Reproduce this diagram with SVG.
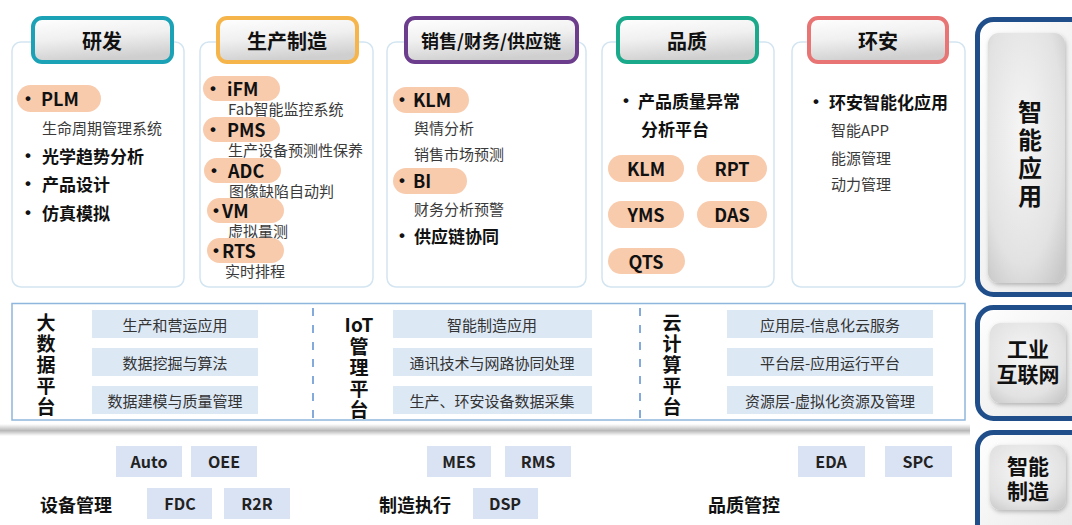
<svg xmlns="http://www.w3.org/2000/svg" width="1072" height="525" viewBox="0 0 1072 525">
<defs>
<linearGradient id="hg" x1="0" y1="0" x2="0.25" y2="1"><stop offset="0" stop-color="#ffffff"/><stop offset="0.5" stop-color="#f0f0f0"/><stop offset="1" stop-color="#cfcfcf"/></linearGradient>
<radialGradient id="ig" cx="0.45" cy="0.4" r="0.75"><stop offset="0" stop-color="#f6f6f6"/><stop offset="0.7" stop-color="#e2e2e2"/><stop offset="1" stop-color="#c8c8c8"/></radialGradient>
<linearGradient id="og" x1="0" y1="0" x2="1" y2="1"><stop offset="0" stop-color="#ffffff"/><stop offset="1" stop-color="#e6e6e6"/></linearGradient>
<linearGradient id="bar" x1="0" y1="0" x2="0" y2="1"><stop offset="0" stop-color="#ffffff"/><stop offset="0.55" stop-color="#b8b8b8"/><stop offset="1" stop-color="#ffffff"/></linearGradient>
<filter id="sh" x="-20%" y="-20%" width="140%" height="140%"><feDropShadow dx="1" dy="2" stdDeviation="2" flood-color="#000" flood-opacity="0.25"/></filter>
</defs>
<style>
text{font-family:"Noto Sans CJK SC","Noto Sans",sans-serif;fill:#1a1a1a;dominant-baseline:central}
.panel{fill:#fff;stroke:#d3e5f1;stroke-width:1.5}
.hdr{fill:url(#hg);stroke-width:4}
.ht{font-size:20px;font-weight:bold;text-anchor:middle;fill:#111}
.pill{fill:#f8cbad}
.b{font-size:17px;font-weight:bold;fill:#111}
.pb{font-size:18px;font-weight:bold;fill:#111}
.s{font-size:15px;fill:#3a3a3a}
.c{text-anchor:middle}
.mb{fill:#dde8f5}
.mt{font-size:15px;fill:#333;text-anchor:middle}
.vl{font-size:19px;font-weight:bold;fill:#111}
.vt{writing-mode:vertical-rl;letter-spacing:2px}
.tag{fill:#dae3f3}
.tt{font-size:16px;font-weight:bold;text-anchor:middle;fill:#222}
.bl{font-size:18px;font-weight:bold;fill:#111}
.outer{fill:url(#og);stroke:#1f4e8a;stroke-width:5}
.inner{fill:url(#ig);filter:url(#sh)}
.rt{font-size:21px;font-weight:bold;text-anchor:middle;fill:#111}
.bu{font-family:"Liberation Sans",Arial,sans-serif;font-size:17px;font-weight:bold;fill:#111}
</style>

<g id="col-rd">
<rect class="panel" x="12" y="42" width="172" height="245" rx="9"/>
<rect class="hdr" x="33" y="18" width="139" height="44" rx="9" stroke="#1ba2b6"/>
<text class="ht" x="102" y="40">研发</text>
<rect class="pill" x="17" y="85" width="84" height="27" rx="13.5"/>
<text class="bu" x="25" y="98">•</text><text class="pb" x="41" y="98">PLM</text>
<text class="s" x="42" y="127">生命周期管理系统</text>
<text class="bu" x="25" y="155">•</text><text class="b" x="42" y="155">光学趋势分析</text>
<text class="bu" x="25" y="183">•</text><text class="b" x="42" y="183">产品设计</text>
<text class="bu" x="25" y="212">•</text><text class="b" x="42" y="212">仿真模拟</text>
</g>

<g id="col-mfg">
<rect class="panel" x="200" y="42" width="173" height="245" rx="9"/>
<rect class="hdr" x="218" y="18" width="139" height="44" rx="9" stroke="#f6b54b"/>
<text class="ht" x="287" y="40">生产制造</text>
<rect class="pill" x="203" y="76" width="77" height="25" rx="12.5"/>
<text class="bu" x="210" y="88">•</text><text class="pb" x="227" y="88">iFM</text>
<text class="s" x="228" y="108">Fab智能监控系统</text>
<rect class="pill" x="203" y="117" width="77" height="25" rx="12.5"/>
<text class="bu" x="210" y="129">•</text><text class="pb" x="227" y="129">PMS</text>
<text class="s" x="228" y="149">生产设备预测性保养</text>
<rect class="pill" x="204" y="158" width="77" height="25" rx="12.5"/>
<text class="bu" x="211" y="170">•</text><text class="pb" x="228" y="170">ADC</text>
<text class="s" x="229" y="190">图像缺陷自动判</text>
<rect class="pill" x="207" y="198" width="77" height="25" rx="12.5"/>
<text class="bu" x="213" y="210">•</text><text class="pb" x="222" y="210">VM</text>
<text class="s" x="228" y="230">虚拟量测</text>
<rect class="pill" x="207" y="238" width="77" height="25" rx="12.5"/>
<text class="bu" x="213" y="250">•</text><text class="pb" x="222" y="250">RTS</text>
<text class="s" x="225" y="270">实时排程</text>
</g>

<g id="col-sales">
<rect class="panel" x="387" y="42" width="199" height="245" rx="9"/>
<rect class="hdr" x="406" y="18" width="171" height="44" rx="9" stroke="#6b3d8c"/>
<text class="ht" x="491" y="40" style="font-size:18px">销售/财务/供应链</text>
<rect class="pill" x="393" y="87" width="76" height="26" rx="13"/>
<text class="bu" x="399" y="99">•</text><text class="pb" x="413" y="99">KLM</text>
<text class="s" x="414" y="127">舆情分析</text>
<text class="s" x="414" y="153">销售市场预测</text>
<rect class="pill" x="393" y="168" width="74" height="26" rx="13"/>
<text class="bu" x="399" y="180">•</text><text class="pb" x="413" y="180">BI</text>
<text class="s" x="414" y="208">财务分析预警</text>
<text class="bu" x="399" y="235">•</text><text class="b" x="414" y="235">供应链协同</text>
</g>

<g id="col-quality">
<rect class="panel" x="602" y="42" width="172" height="245" rx="9"/>
<rect class="hdr" x="618" y="18" width="139" height="44" rx="9" stroke="#1aaa8b"/>
<text class="ht" x="687" y="40">品质</text>
<text class="bu" x="623" y="100">•</text><text class="b" x="638" y="100">产品质量异常</text>
<text class="b" x="641" y="128">分析平台</text>
<rect class="pill" x="608" y="155" width="76" height="27" rx="13.5"/>
<text class="pb c" x="646" y="168">KLM</text>
<rect class="pill" x="697" y="155" width="70" height="27" rx="13.5"/>
<text class="pb c" x="732" y="168">RPT</text>
<rect class="pill" x="608" y="201" width="76" height="27" rx="13.5"/>
<text class="pb c" x="646" y="214">YMS</text>
<rect class="pill" x="697" y="201" width="70" height="27" rx="13.5"/>
<text class="pb c" x="732" y="214">DAS</text>
<rect class="pill" x="608" y="248" width="77" height="26" rx="13"/>
<text class="pb c" x="646" y="261">QTS</text>
</g>

<g id="col-ehs">
<rect class="panel" x="792" y="42" width="173" height="245" rx="9"/>
<rect class="hdr" x="809" y="18" width="138" height="44" rx="9" stroke="#e87474"/>
<text class="ht" x="878" y="40">环安</text>
<text class="bu" x="813" y="101">•</text><text class="b" x="829" y="101">环安智能化应用</text>
<text class="s" x="831" y="129">智能APP</text>
<text class="s" x="831" y="157">能源管理</text>
<text class="s" x="831" y="183">动力管理</text>
</g>

<g id="side-app">
<rect class="outer" x="977.5" y="19.5" width="110" height="275" rx="16"/>
<rect class="inner" x="988" y="33" width="77" height="250" rx="11"/>
<text class="rt" x="1030" y="100" style="font-size:24px;writing-mode:vertical-rl;letter-spacing:4px;text-anchor:start">智能应用</text>
</g>

<g id="platform">
<rect x="12" y="303.5" width="953" height="116.5" fill="#fff" stroke="#8fb6dc" stroke-width="1.5"/>
<line x1="313" y1="308" x2="313" y2="418" stroke="#5b8fcf" stroke-width="1.5" stroke-dasharray="8,9"/>
<line x1="640" y1="308" x2="640" y2="418" stroke="#5b8fcf" stroke-width="1.5" stroke-dasharray="8,9"/>
<text class="vl vt" x="46" y="313.5">大数据平台</text>
<rect class="mb" x="92" y="310" width="166" height="28"/><text class="mt" x="175" y="324">生产和营运应用</text>
<rect class="mb" x="92" y="348" width="166" height="28"/><text class="mt" x="175" y="362">数据挖掘与算法</text>
<rect class="mb" x="92" y="386" width="166" height="28"/><text class="mt" x="175" y="400">数据建模与质量管理</text>
<text class="vl" x="359" y="323" style="text-anchor:middle">IoT</text>
<text class="vl vt" x="359" y="337">管理平台</text>
<rect class="mb" x="393" y="310" width="199" height="28"/><text class="mt" x="492" y="324">智能制造应用</text>
<rect class="mb" x="393" y="348" width="199" height="28"/><text class="mt" x="492" y="362">通讯技术与网路协同处理</text>
<rect class="mb" x="393" y="386" width="199" height="28"/><text class="mt" x="492" y="400">生产、环安设备数据采集</text>
<text class="vl vt" x="672" y="313.5">云计算平台</text>
<rect class="mb" x="727" y="310" width="206" height="28"/><text class="mt" x="830" y="324">应用层-信息化云服务</text>
<rect class="mb" x="727" y="348" width="206" height="28"/><text class="mt" x="830" y="362">平台层-应用运行平台</text>
<rect class="mb" x="727" y="386" width="206" height="28"/><text class="mt" x="830" y="400">资源层-虚拟化资源及管理</text>
</g>

<g id="side-iiot">
<rect class="outer" x="977.5" y="307.5" width="110" height="111" rx="16"/>
<rect class="inner" x="990" y="323" width="76" height="80" rx="11"/>
<text class="rt" x="1028" y="348">工业</text>
<text class="rt" x="1028" y="373">互联网</text>
</g>

<rect x="0" y="424" width="970" height="12" fill="url(#bar)"/>

<g id="mfg-tags">
<rect class="tag" x="116" y="446" width="66" height="31"/><text class="tt" x="149" y="461">Auto</text>
<rect class="tag" x="191" y="446" width="66" height="31"/><text class="tt" x="224" y="461">OEE</text>
<rect class="tag" x="147" y="488" width="65" height="31"/><text class="tt" x="180" y="503">FDC</text>
<rect class="tag" x="224" y="488" width="66" height="31"/><text class="tt" x="257" y="503">R2R</text>
<text class="bl" x="40" y="504">设备管理</text>
<rect class="tag" x="427" y="446" width="64" height="31"/><text class="tt" x="459" y="461">MES</text>
<rect class="tag" x="505" y="446" width="66" height="31"/><text class="tt" x="538" y="461">RMS</text>
<text class="bl" x="379" y="504">制造执行</text>
<rect class="tag" x="473" y="488" width="65" height="31"/><text class="tt" x="505" y="503">DSP</text>
<rect class="tag" x="798" y="446" width="67" height="31"/><text class="tt" x="831" y="461">EDA</text>
<rect class="tag" x="885" y="446" width="67" height="31"/><text class="tt" x="918" y="461">SPC</text>
<text class="bl" x="708" y="504">品质管控</text>
</g>

<g id="side-mfg">
<rect class="outer" x="977.5" y="432.5" width="110" height="115" rx="16"/>
<rect class="inner" x="990" y="445" width="76" height="65" rx="11"/>
<text class="rt" x="1028" y="465">智能</text>
<text class="rt" x="1028" y="490">制造</text>
</g>
</svg>
